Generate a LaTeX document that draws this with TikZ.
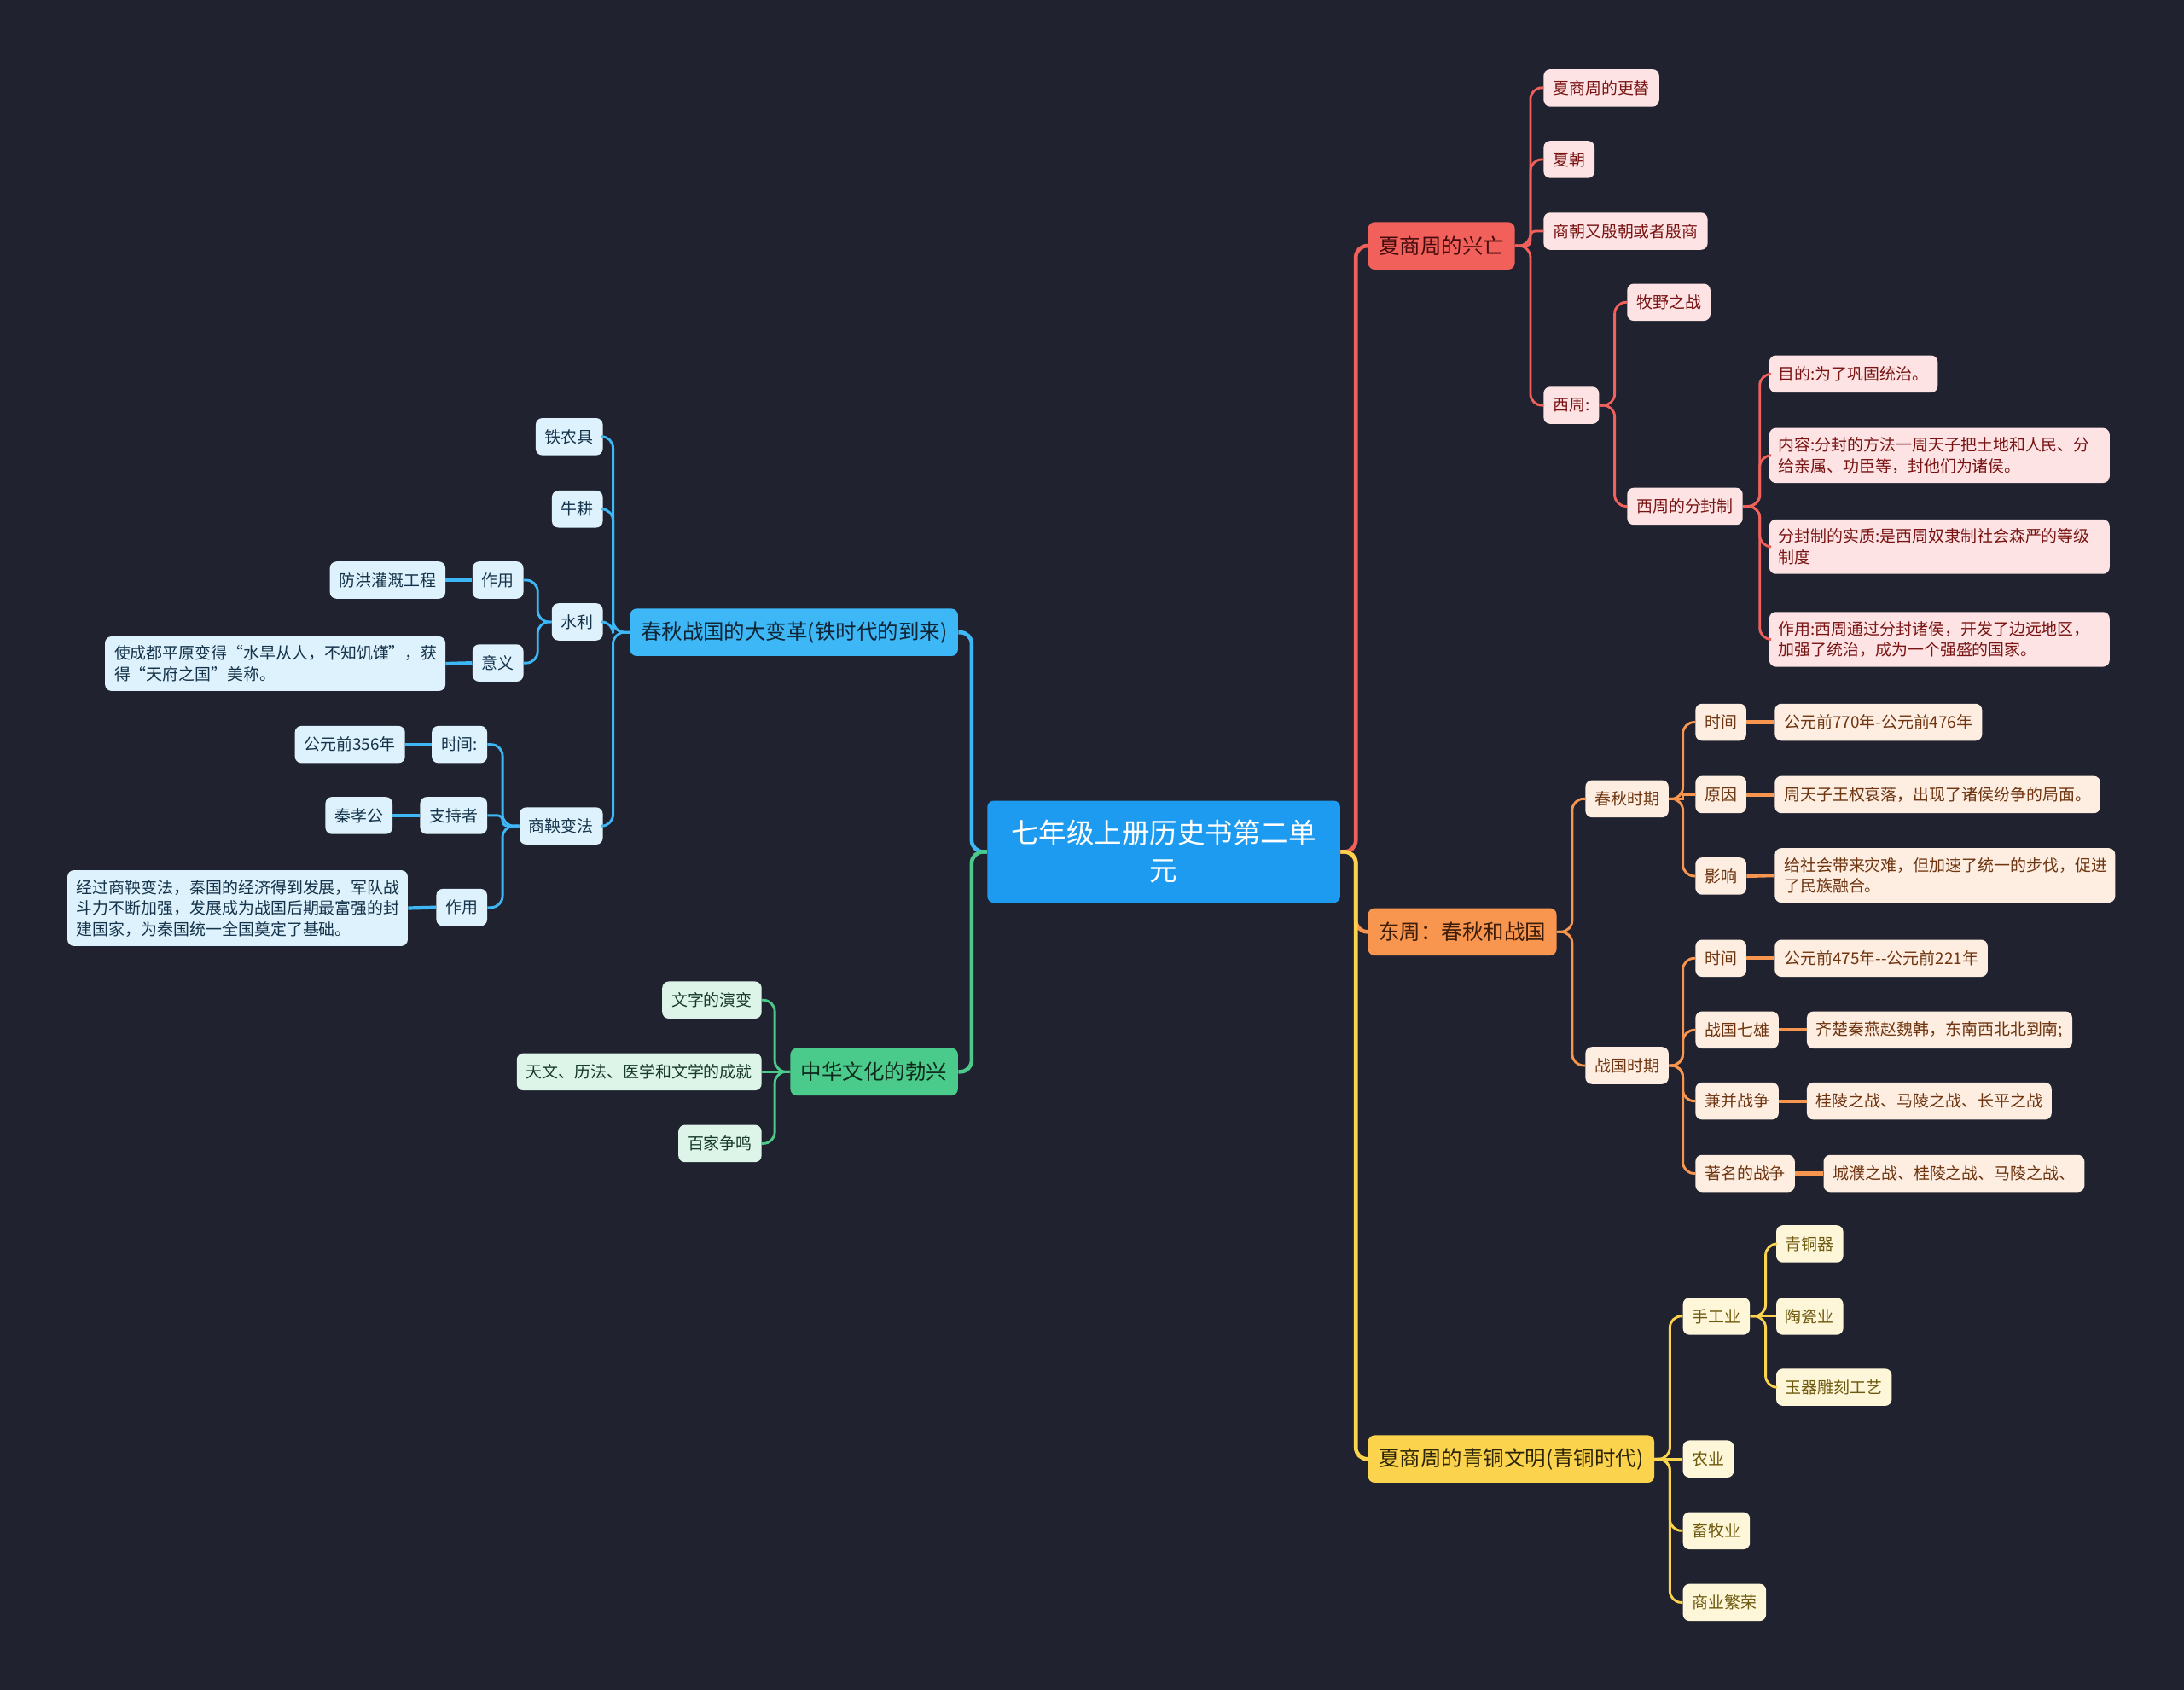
\documentclass[tikz,border=0pt]{standalone}
\usepackage{fontspec}
\setmainfont{Noto Sans CJK SC}
\usepackage{xcolor}
\usetikzlibrary{positioning, calc}

\definecolor{bgdark}{HTML}{20232F}
\definecolor{coreblue}{HTML}{1C9BF0}
\definecolor{redmain}{HTML}{F2605C}
\definecolor{redlight}{HTML}{FDE3E3}
\definecolor{redtxt}{HTML}{7A1414}
\definecolor{orgmain}{HTML}{F8954E}
\definecolor{orglight}{HTML}{FEEDE1}
\definecolor{orgtxt}{HTML}{6E3510}
\definecolor{ylwmain}{HTML}{FCD34D}
\definecolor{ylwlight}{HTML}{FEF6D9}
\definecolor{ylwtxt}{HTML}{6E5A0E}
\definecolor{blumain}{HTML}{3DB7F5}
\definecolor{blulight}{HTML}{DDF2FC}
\definecolor{blutxt}{HTML}{15334A}
\definecolor{grnmain}{HTML}{4BCB8B}
\definecolor{grnlight}{HTML}{DDF4E8}
\definecolor{grntxt}{HTML}{173A29}

\begin{document}
\begin{tikzpicture}[
  x=0.3mm, y=-0.3mm,
  core/.style={fill=coreblue, text=white, rounded corners=4pt, minimum width=7.6cm, minimum height=2.2cm, align=center, font=\fontsize{17}{23}\selectfont},
  main/.style={rounded corners=4pt, minimum height=1.02cm, inner xsep=0.23cm, font=\fontsize{12.8}{15}\selectfont},
  sub/.style={rounded corners=4pt, minimum height=0.8cm, inner xsep=0.2cm, font=\fontsize{9.9}{12.8}\selectfont},
  long/.style={sub, text width=6.93cm, align=left, inner ysep=0.2cm},
  red_main/.style={main, fill=redmain, text=redtxt!55!black, anchor=west},
  red_sub/.style={sub, fill=redlight, text=redtxt, anchor=west},
  red_long/.style={long, fill=redlight, text=redtxt, anchor=west},
  org_main/.style={main, fill=orgmain, text=orgtxt!55!black, anchor=west},
  org_sub/.style={sub, fill=orglight, text=orgtxt, anchor=west},
  org_long/.style={long, fill=orglight, text=orgtxt, anchor=west},
  ylw_main/.style={main, fill=ylwmain, text=ylwtxt!40!black, anchor=west},
  ylw_sub/.style={sub, fill=ylwlight, text=ylwtxt, anchor=west},
  blu_main/.style={main, fill=blumain, text=blutxt!70!black, anchor=east},
  blu_sub/.style={sub, fill=blulight, text=blutxt, anchor=east},
  blu_long/.style={long, fill=blulight, text=blutxt, anchor=east},
  grn_main/.style={main, fill=grnmain, text=grntxt!70!black, anchor=east},
  grn_sub/.style={sub, fill=grnlight, text=grntxt, anchor=east},
  trunk/.style={line width=2.4pt, rounded corners=7pt},
  link/.style={line width=1.5pt, rounded corners=7pt},
  bar/.style={line width=2.2pt}
]

  \useasboundingbox (0,0) rectangle (1568,1213);
  \fill[bgdark] (-5,-5) rectangle (1573,1218);

  \node[core] (root) at (835.5,611.5) {七年级上册历史书第二单\\元};

  % Right: red branch
  \node[red_main] (xsz) at (982,176.5) {夏商周的兴亡};
  \node[red_sub] (gengti) at (1108,63) {夏商周的更替};
  \node[red_sub] (xia) at (1108,114.5) {夏朝};
  \node[red_sub] (shang) at (1108,166) {商朝又殷朝或者殷商};
  \node[red_sub] (xizhou) at (1108,291) {西周:};
  \node[red_sub] (muye) at (1168,217) {牧野之战};
  \node[red_sub] (fenfeng) at (1168,363.5) {西周的分封制};
  \node[red_sub] (mudi) at (1270,268.5) {目的:为了巩固统治。};
  \node[red_long] (neirong) at (1270,327) {内容:分封的方法一周天子把土地和人民、分\\给亲属、功臣等，封他们为诸侯。};
  \node[red_long] (shizhi) at (1270,392.5) {分封制的实质:是西周奴隶制社会森严的等级\\制度};
  \node[red_long] (zuoyong) at (1270,459) {作用:西周通过分封诸侯，开发了边远地区，\\加强了统治，成为一个强盛的国家。};

  % Right: orange branch
  \node[org_main] (dz) at (982,669) {东周：春秋和战国};
  \node[org_sub] (cq) at (1138,573.5) {春秋时期};
  \node[org_sub] (cq_t) at (1217,518.5) {时间};
  \node[org_sub] (cq_y) at (1217,570.5) {原因};
  \node[org_sub] (cq_i) at (1217,629) {影响};
  \node[org_sub] (cq_tv) at (1274,518.5) {公元前770年-公元前476年};
  \node[org_sub] (cq_yv) at (1274,570.5) {周天子王权衰落，出现了诸侯纷争的局面。};
  \node[org_long] (cq_iv) at (1274,628.5) {给社会带来灾难，但加速了统一的步伐，促进\\了民族融合。};
  \node[org_sub] (zg) at (1138,765) {战国时期};
  \node[org_sub] (zg_t) at (1217,688) {时间};
  \node[org_sub] (zg_q) at (1217,739.5) {战国七雄};
  \node[org_sub] (zg_j) at (1217,790.5) {兼并战争};
  \node[org_sub] (zg_m) at (1217,842.5) {著名的战争};
  \node[org_sub] (zg_tv) at (1274,688) {公元前475年-{}-公元前221年};
  \node[org_sub] (zg_qv) at (1297,739.5) {齐楚秦燕赵魏韩，东南西北北到南;};
  \node[org_sub] (zg_jv) at (1297,790.5) {桂陵之战、马陵之战、长平之战};
  \node[org_sub] (zg_mv) at (1309,842.5) {城濮之战、桂陵之战、马陵之战、};

  % Right: yellow branch
  \node[ylw_main] (qt) at (982,1047.5) {夏商周的青铜文明(青铜时代)};
  \node[ylw_sub] (sg) at (1208,945) {手工业};
  \node[ylw_sub] (tqq) at (1275,893) {青铜器};
  \node[ylw_sub] (tcy) at (1275,945) {陶瓷业};
  \node[ylw_sub] (yq) at (1275,996) {玉器雕刻工艺};
  \node[ylw_sub] (ny) at (1208,1047.5) {农业};
  \node[ylw_sub] (xm) at (1208,1099) {畜牧业};
  \node[ylw_sub] (syf) at (1208,1150.5) {商业繁荣};

  % Left: blue branch
  \node[blu_main] (bg) at (688,454) {春秋战国的大变革(铁时代的到来)};
  \node[blu_sub] (tnj) at (433,313.5) {铁农具};
  \node[blu_sub] (ng) at (433,365.5) {牛耕};
  \node[blu_sub] (sl) at (433,446.5) {水利};
  \node[blu_sub] (sl_z) at (376,416.5) {作用};
  \node[blu_sub] (sl_y) at (376,476) {意义};
  \node[blu_sub] (sl_zv) at (320,416.5) {防洪灌溉工程};
  \node[blu_long] (sl_yv) at (320,476.5) {使成都平原变得“水旱从人，不知饥馑”，获\\得“天府之国”美称。};
  \node[blu_sub] (sy) at (433,593) {商鞅变法};
  \node[blu_sub] (sy_t) at (350,534.5) {时间:};
  \node[blu_sub] (sy_z) at (350,585.5) {支持者};
  \node[blu_sub] (sy_e) at (350,651.5) {作用};
  \node[blu_sub] (sy_tv) at (291,534.5) {公元前356年};
  \node[blu_sub] (sy_zv) at (282,585.5) {秦孝公};
  \node[blu_long] (sy_ev) at (293,652) {经过商鞅变法，秦国的经济得到发展，军队战\\斗力不断加强，发展成为战国后期最富强的封\\建国家，为秦国统一全国奠定了基础。};

  % Left: green branch
  \node[grn_main] (zh) at (688,769.5) {中华文化的勃兴};
  \node[grn_sub] (wz) at (547,718) {文字的演变};
  \node[grn_sub] (tw) at (547,769.5) {天文、历法、医学和文学的成就};
  \node[grn_sub] (bj) at (547,821) {百家争鸣};

  % trunks from the centre
  \draw[trunk, redmain] (root.east) -- ++(11,0) |- (xsz.west);
  \draw[trunk, orgmain] (root.east) -- ++(11,0) |- (dz.west);
  \draw[trunk, ylwmain] (root.east) -- ++(11,0) |- (qt.west);
  \draw[trunk, blumain] (root.west) -- ++(-11,0) |- (bg.east);
  \draw[trunk, grnmain] (root.west) -- ++(-11,0) |- (zh.east);

  % red links
  \foreach \c in {gengti, xia, xizhou}
    \draw[link, redmain] (xsz.east) -- ++(11,0) |- (\c.west);
  \draw[link, redmain, rounded corners=3pt] (xsz.east) -- ++(11,0) |- (shang.west);
  \foreach \c in {muye, fenfeng}
    \draw[link, redmain] (xizhou.east) -- ++(11,0) |- (\c.west);
  \foreach \c in {mudi, neirong, shizhi, zuoyong}
    \draw[link, redmain] (fenfeng.east) -- ++(12,0) |- (\c.west);

  % orange links
  \foreach \c in {cq, zg}
    \draw[link, orgmain] (dz.east) -- ++(11,0) |- (\c.west);
  \foreach \c in {cq_t, cq_i}
    \draw[link, orgmain] (cq.east) -- ++(10,0) |- (\c.west);
  \draw[link, orgmain, sharp corners] (cq.east) -- ++(10,0) |- (cq_y.west);
  \foreach \c in {zg_t, zg_q, zg_j, zg_m}
    \draw[link, orgmain] (zg.east) -- ++(10,0) |- (\c.west);
  \draw[bar, orgmain] (cq_t) -- (cq_tv);
  \draw[bar, orgmain] (cq_y) -- (cq_yv);
  \draw[bar, orgmain] (cq_i.east) -- (cq_iv.west);
  \draw[bar, orgmain] (zg_t) -- (zg_tv);
  \draw[bar, orgmain] (zg_q) -- (zg_qv);
  \draw[bar, orgmain] (zg_j) -- (zg_jv);
  \draw[bar, orgmain] (zg_m) -- (zg_mv);

  % yellow links
  \foreach \c in {sg, xm, syf}
    \draw[link, ylwmain] (qt.east) -- ++(11,0) |- (\c.west);
  \draw[link, ylwmain] (qt) -- (ny);
  \foreach \c in {tqq, yq}
    \draw[link, ylwmain] (sg.east) -- ++(11,0) |- (\c.west);
  \draw[link, ylwmain] (sg) -- (tcy);

  % blue links
  \foreach \c in {tnj, ng, sl, sy}
    \draw[link, blumain] (bg.west) -- ++(-12,0) |- (\c.east);
  \foreach \c in {sl_z, sl_y}
    \draw[link, blumain] (sl.west) -- ++(-10,0) |- (\c.east);
  \foreach \c in {sy_t, sy_e}
    \draw[link, blumain] (sy.west) -- ++(-12,0) |- (\c.east);
  \draw[link, blumain, rounded corners=3pt] (sy.west) -- ++(-12,0) |- (sy_z.east);
  \draw[bar, blumain] (sl_z) -- (sl_zv);
  \draw[bar, blumain] (sl_y.west) -- (sl_yv.east);
  \draw[bar, blumain] (sy_t) -- (sy_tv);
  \draw[bar, blumain] (sy_z) -- (sy_zv);
  \draw[bar, blumain] (sy_e.west) -- (sy_ev.east);

  % green links
  \foreach \c in {wz, bj}
    \draw[link, grnmain] (zh.west) -- ++(-11,0) |- (\c.east);
  \draw[link, grnmain] (zh) -- (tw);

\end{tikzpicture}
\end{document}
